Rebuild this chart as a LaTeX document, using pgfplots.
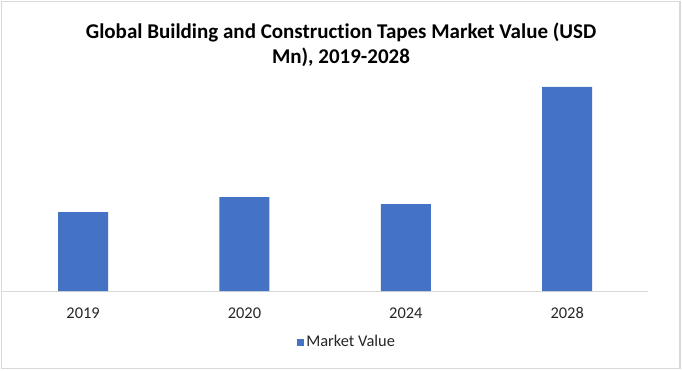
\documentclass[border=0pt]{standalone}
\usepackage{pgfplots}
\pgfplotsset{compat=1.18}
\usepackage{fontspec}
\setmainfont[Ligatures={NoCommon,NoRare}]{Carlito}
\definecolor{barblue}{HTML}{4472C4}
\definecolor{axgray}{HTML}{D9D9D9}
\begin{document}
\begin{tikzpicture}[x=1pt,y=1pt]
\useasboundingbox (0,0) rectangle (682,370);
\draw[axgray, line width=1.2pt] (1.5,1.5) rectangle (680,368.5);
\node[font=\fontsize{21}{25}\selectfont\bfseries, align=center, text=black] at (341,325.5) {Global Building and Construction Tapes Market Value (USD\\Mn), 2019-2028};
\begin{axis}[
  at={(1.5,79)}, anchor=south west,
  scale only axis, width=645.5pt, height=220pt,
  xmin=-0.5, xmax=3.5, ymin=0, ymax=220,
  axis x line*=bottom, axis y line=none,
  x axis line style={axgray, line width=1pt, -},
  xtick={0,1,2,3}, xticklabels={2019,2020,2024,2028},
  ytick=\empty,
  major tick length=0pt,
  xticklabel style={yshift=-13pt},
  tick label style={font=\fontsize{16.4}{18}\selectfont, text=black!85},
  ybar, bar width=50pt,
  legend style={draw=none, at={(0.534,-0.232)}, anchor=center, font=\fontsize{16.4}{18}\selectfont, text=black!85},
  legend image code/.code={\fill[barblue] (0pt,-3.5pt) rectangle (7pt,3.5pt);},
]
\addplot[fill=barblue, draw=none] coordinates {(0,79) (1,94) (2,87) (3,204)};
\addlegendentry{Market Value}
\end{axis}
\end{tikzpicture}
\end{document}
